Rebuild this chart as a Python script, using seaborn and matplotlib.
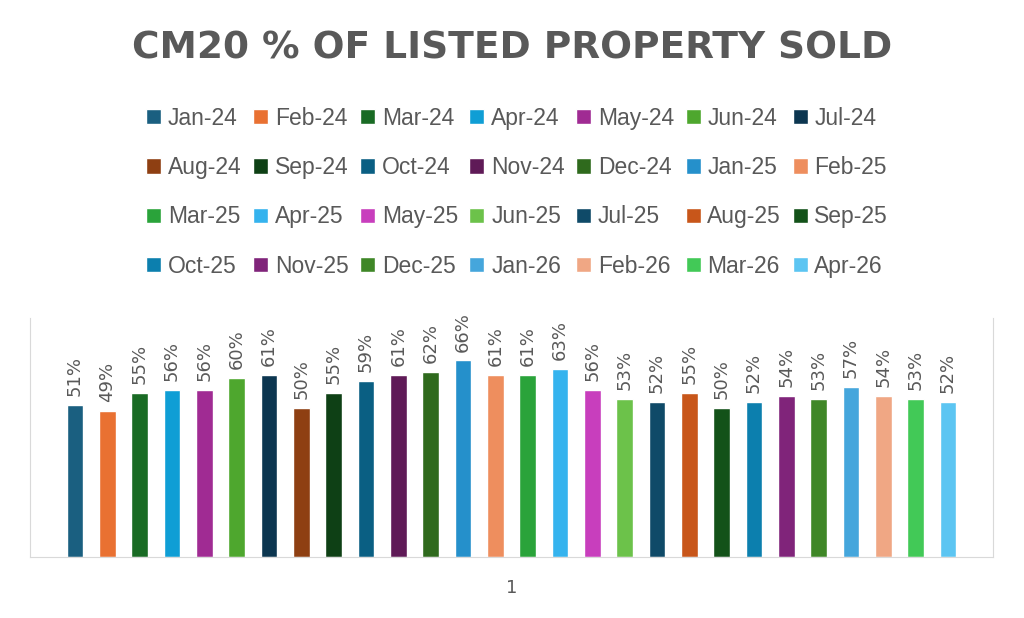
import matplotlib
matplotlib.use("Agg")
import matplotlib.pyplot as plt
import pandas as pd
import seaborn as sns

months = ["Jan-24", "Feb-24", "Mar-24", "Apr-24", "May-24", "Jun-24", "Jul-24",
          "Aug-24", "Sep-24", "Oct-24", "Nov-24", "Dec-24", "Jan-25", "Feb-25",
          "Mar-25", "Apr-25", "May-25", "Jun-25", "Jul-25", "Aug-25", "Sep-25",
          "Oct-25", "Nov-25", "Dec-25", "Jan-26", "Feb-26", "Mar-26", "Apr-26"]
pct_sold = [51, 49, 55, 56, 56, 60, 61, 50, 55, 59, 61, 62, 66, 61,
            61, 63, 56, 53, 52, 55, 50, 52, 54, 53, 57, 54, 53, 52]
bar_colors = ["#1a5f80", "#e97132", "#196b24", "#0f9ed5", "#a02b93", "#4ea72e", "#0c3650",
              "#8e3f12", "#0e4015", "#0a5f83", "#5f1a57", "#2f6a1d", "#2590cb", "#ee8e5e",
              "#2aa33a", "#35b3ee", "#c83ebd", "#6cc24a", "#0f4a68", "#c8561a", "#135219",
              "#0c7fae", "#80247a", "#3f8727", "#45a6dc", "#f0a784", "#42c957", "#5cc5f2"]
category = ["1"] * len(months)

df = pd.DataFrame({"cat": category, "month": months,
                   "share": [v / 100 for v in pct_sold]})

sns.set_style("white")
plt.rcParams["font.family"] = ["DejaVu Sans"]
text_grey = "#595959"

fig = plt.figure(figsize=(10.24, 6.18), dpi=100)
ax = fig.add_axes([0.0293, 0.0987, 0.9404, 0.3867])

sns.barplot(data=df, x="cat", y="share", hue="month", hue_order=months,
            palette=dict(zip(months, bar_colors)), width=0.94, gap=0.48,
            saturation=1, ax=ax)

for cont, v in zip(ax.containers, pct_sold):
    ax.bar_label(cont, labels=[f"{v}%"], rotation=90, padding=6,
                 fontsize=13, color=text_grey)

handles, labels = ax.get_legend_handles_labels()
ax.get_legend().remove()

# matplotlib fills legend columns first; reorder so it reads row by row
ncol, nrow = 7, 4
order = [r * ncol + c for c in range(ncol) for r in range(nrow)]
handles = [handles[i] for i in order]
labels = [labels[i] for i in order]

ax.set_ylim(0, 0.8)
ax.set_xlim(-0.5, 0.5)
ax.set_yticks([])
ax.set_xlabel("")
ax.set_ylabel("")
ax.tick_params(axis="x", length=0, labelsize=13, labelcolor=text_grey, pad=16)
for side in ["left", "right", "bottom"]:
    ax.spines[side].set_color("#d9d9d9")
ax.spines["top"].set_visible(False)

fig.text(0.5, 0.922, "CM20 % OF LISTED PROPERTY SOLD", ha="center", va="center",
         fontsize=27, fontweight="bold", color=text_grey)

leg = fig.legend(handles, labels, ncol=ncol, loc="center", bbox_to_anchor=(0.505, 0.689),
                 frameon=False, labelcolor=text_grey,
                 handlelength=0.65, handleheight=0.65, handletextpad=0.3,
                 columnspacing=0.5, labelspacing=1.15,
                 prop={"family": ["Liberation Sans", "DejaVu Sans"], "size": 16.5})

fig.savefig("out.png", dpi=100)
